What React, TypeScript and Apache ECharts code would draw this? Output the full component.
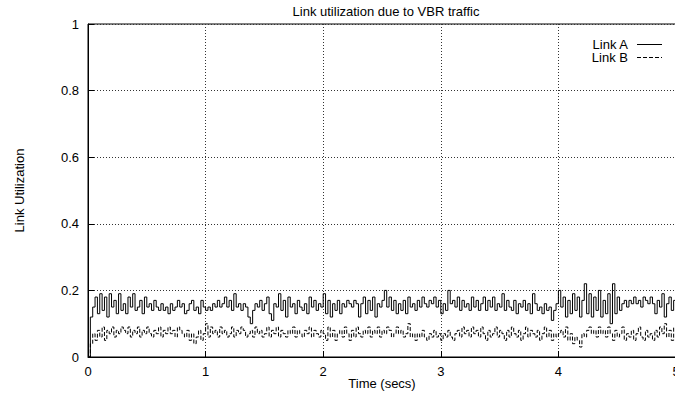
import React, { useEffect, useRef } from "react";
import * as echarts from "echarts";

const TITLE = "Link utilization due to VBR traffic";
const X_NAME = "Time (secs)";
const Y_NAME = "Link Utilization";
const SERIES_NAMES = ["Link A", "Link B"];
const T_STEP = 0.02;

const linkA: number[] = [
  // 0.00 - 0.98
  0.00,0.12,0.15,0.18,0.13,0.19,0.14,0.18,0.12,0.19,
  0.15,0.17,0.13,0.19,0.14,0.16,0.13,0.18,0.15,0.19,
  0.14,0.15,0.17,0.13,0.18,0.15,0.16,0.14,0.17,0.15,
  0.14,0.16,0.14,0.15,0.13,0.16,0.14,0.15,0.17,0.15,
  0.16,0.13,0.14,0.16,0.17,0.14,0.15,0.13,0.17,0.15,
  // 1.00 - 1.98
  0.14,0.15,0.14,0.16,0.15,0.17,0.15,0.16,0.18,0.15,
  0.17,0.14,0.19,0.15,0.16,0.14,0.16,0.15,0.12,0.10,
  0.14,0.16,0.15,0.17,0.14,0.16,0.18,0.13,0.11,0.16,
  0.15,0.19,0.14,0.17,0.12,0.18,0.15,0.16,0.13,0.17,
  0.15,0.14,0.16,0.13,0.18,0.15,0.17,0.14,0.16,0.15,
  // 2.00 - 2.98
  0.19,0.13,0.17,0.12,0.16,0.14,0.17,0.13,0.16,0.15,
  0.17,0.16,0.15,0.17,0.16,0.12,0.16,0.18,0.13,0.17,
  0.14,0.18,0.12,0.16,0.15,0.17,0.20,0.15,0.18,0.14,
  0.17,0.13,0.16,0.14,0.17,0.13,0.18,0.15,0.16,0.14,
  0.17,0.15,0.18,0.16,0.15,0.17,0.16,0.18,0.15,0.17,
  // 3.00 - 3.98
  0.13,0.16,0.14,0.20,0.16,0.17,0.15,0.18,0.14,0.17,
  0.15,0.16,0.14,0.18,0.15,0.17,0.14,0.16,0.18,0.14,
  0.17,0.15,0.18,0.14,0.16,0.15,0.19,0.14,0.17,0.15,
  0.14,0.17,0.13,0.16,0.15,0.17,0.14,0.16,0.13,0.19,
  0.16,0.14,0.15,0.13,0.16,0.14,0.15,0.11,0.14,0.16,
  // 4.00 - 4.98
  0.20,0.15,0.18,0.12,0.17,0.13,0.19,0.14,0.18,0.12,
  0.17,0.22,0.13,0.19,0.12,0.18,0.14,0.20,0.12,0.17,
  0.13,0.19,0.10,0.22,0.13,0.18,0.14,0.16,0.17,0.15,
  0.17,0.16,0.18,0.16,0.17,0.15,0.18,0.17,0.16,0.18,
  0.16,0.13,0.17,0.15,0.19,0.12,0.16,0.18,0.14,0.17,
  // 5.00
  0.15,
];

const linkB: number[] = [
  // 0.00 - 0.98
  0.00,0.04,0.07,0.05,0.08,0.06,0.09,0.05,0.08,0.07,
  0.09,0.06,0.08,0.07,0.09,0.08,0.07,0.09,0.06,0.08,
  0.07,0.09,0.06,0.08,0.07,0.09,0.07,0.06,0.08,0.07,
  0.09,0.06,0.08,0.07,0.09,0.07,0.08,0.06,0.09,0.08,
  0.07,0.06,0.08,0.05,0.07,0.04,0.06,0.08,0.05,0.07,
  // 1.00 - 1.98
  0.10,0.06,0.09,0.07,0.08,0.06,0.09,0.07,0.08,0.06,
  0.07,0.09,0.06,0.08,0.07,0.09,0.08,0.06,0.07,0.08,
  0.06,0.09,0.07,0.08,0.06,0.07,0.09,0.06,0.08,0.07,
  0.09,0.06,0.08,0.07,0.06,0.08,0.07,0.09,0.06,0.08,
  0.07,0.06,0.08,0.07,0.09,0.06,0.08,0.07,0.06,0.08,
  // 2.00 - 2.98
  0.07,0.05,0.09,0.06,0.08,0.05,0.07,0.08,0.06,0.09,
  0.07,0.05,0.08,0.06,0.09,0.07,0.06,0.08,0.07,0.09,
  0.06,0.08,0.07,0.09,0.06,0.08,0.07,0.09,0.08,0.06,
  0.07,0.09,0.07,0.08,0.06,0.07,0.10,0.06,0.07,0.05,
  0.07,0.06,0.08,0.06,0.05,0.07,0.06,0.08,0.06,0.07,
  // 3.00 - 3.98
  0.05,0.07,0.06,0.08,0.06,0.05,0.07,0.08,0.06,0.09,
  0.07,0.08,0.06,0.09,0.07,0.08,0.06,0.09,0.07,0.05,
  0.08,0.06,0.07,0.09,0.06,0.08,0.07,0.05,0.08,0.06,
  0.09,0.07,0.06,0.08,0.05,0.07,0.09,0.06,0.08,0.07,
  0.06,0.08,0.05,0.07,0.09,0.06,0.08,0.05,0.07,0.06,
  // 4.00 - 4.98
  0.07,0.08,0.06,0.09,0.05,0.07,0.04,0.06,0.05,0.03,
  0.07,0.06,0.08,0.09,0.07,0.08,0.06,0.09,0.07,0.08,
  0.06,0.09,0.07,0.05,0.08,0.06,0.07,0.09,0.05,0.07,
  0.06,0.08,0.05,0.07,0.09,0.06,0.05,0.08,0.06,0.07,
  0.05,0.08,0.06,0.09,0.07,0.10,0.06,0.08,0.05,0.09,
  // 5.00
  0.07,
];

const FONT = "'Liberation Sans', Arial, Helvetica, sans-serif";
const FS = 13;

function toPairs(vals: number[]): [number, number][] {
  return vals.map((v, i) => [Number((i * T_STEP).toFixed(2)), v]);
}

export default function App() {
  const ref = useRef<HTMLDivElement>(null);
  useEffect(() => {
    document.body.style.margin = "0";
    if (!ref.current) return;
    const chart = echarts.init(ref.current, undefined, { renderer: "svg" });
    const gridLine = { show: true, lineStyle: { color: "#333", type: [1, 2] as any, width: 1 } };
    const legendText = {
      fontSize: FS,
      lineHeight: 12,
      fill: "#000",
      fontFamily: FONT,
      align: "right",
      verticalAlign: "middle",
    };
    chart.setOption({
      animation: false,
      backgroundColor: "#fff",
      textStyle: { fontFamily: FONT },
      title: {
        text: TITLE,
        left: 381,
        textAlign: "center",
        top: -1,
        textStyle: { fontSize: FS, lineHeight: 14, fontWeight: "normal", color: "#000", fontFamily: FONT },
      },
      grid: {
        left: 88,
        right: -1,
        top: 24,
        bottom: 36,
        show: true,
        borderColor: "#000",
        borderWidth: 1,
        containLabel: false,
        outerBoundsMode: "none",
      },
      graphic: [
        { type: "text", x: 628, y: 44, style: { ...legendText, text: SERIES_NAMES[0] } },
        { type: "line", shape: { x1: 637, y1: 44.5, x2: 662, y2: 44.5 }, style: { stroke: "#000", lineWidth: 1 } },
        { type: "text", x: 628, y: 57.5, style: { ...legendText, text: SERIES_NAMES[1] } },
        { type: "line", shape: { x1: 637, y1: 57.5, x2: 662, y2: 57.5 }, style: { stroke: "#000", lineWidth: 1, lineDash: [4, 2] } },
      ],
      xAxis: {
        type: "value",
        min: 0,
        max: 5,
        interval: 1,
        name: X_NAME,
        nameLocation: "middle",
        nameGap: 20,
        nameMoveOverlap: false,
        nameTextStyle: { fontSize: FS, lineHeight: 13, color: "#000", fontFamily: FONT },
        axisLine: { show: true, lineStyle: { color: "#000", width: 1 } },
        axisTick: { show: true, inside: true, length: 6, lineStyle: { color: "#000" } },
        axisLabel: { fontSize: FS, lineHeight: 13, color: "#000", margin: 8, fontFamily: FONT },
        splitLine: gridLine,
      },
      yAxis: {
        type: "value",
        min: 0,
        max: 1,
        interval: 0.2,
        name: Y_NAME,
        nameLocation: "middle",
        nameGap: 62,
        nameMoveOverlap: false,
        nameTextStyle: { fontSize: FS, color: "#000", fontFamily: FONT },
        axisLine: { show: true, lineStyle: { color: "#000", width: 1 } },
        axisTick: { show: true, inside: true, length: 6, lineStyle: { color: "#000" } },
        axisLabel: { fontSize: FS, color: "#000", margin: 9, fontFamily: FONT },
        splitLine: gridLine,
      },
      series: [
        {
          name: SERIES_NAMES[0],
          type: "line",
          step: "end",
          symbol: "none",
          data: toPairs(linkA),
          lineStyle: { color: "#000", width: 1, type: "solid" },
          itemStyle: { color: "#000" },
        },
        {
          name: SERIES_NAMES[1],
          type: "line",
          step: "end",
          symbol: "none",
          data: toPairs(linkB),
          lineStyle: { color: "#000", width: 1, type: [4, 2] as any },
          itemStyle: { color: "#000" },
        },
      ],
    });
    return () => chart.dispose();
  }, []);
  return <div ref={ref} style={{ width: 675, height: 393 }} />;
}
